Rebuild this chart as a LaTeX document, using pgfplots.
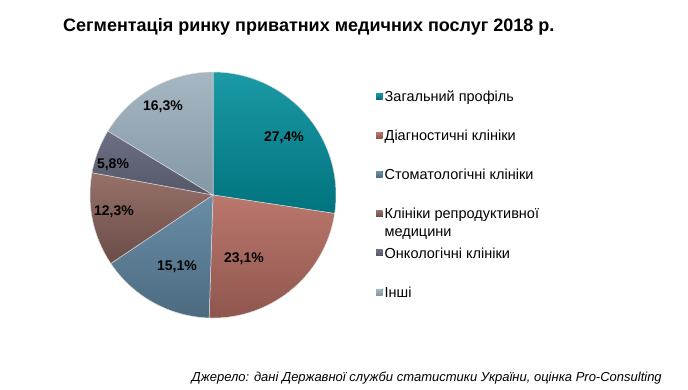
\documentclass[border=0pt]{standalone}
\usepackage{pgfplots}
\pgfplotsset{compat=1.18}
\usepackage{pgfplotstable}
\usepackage{fontspec}
\setmainfont{Liberation Sans}

\definecolor{tealT}{HTML}{1B9AA5}\definecolor{tealB}{HTML}{00737E}
\definecolor{salT}{HTML}{BB776C}\definecolor{salB}{HTML}{8F564E}
\definecolor{steT}{HTML}{6A8EA7}\definecolor{steB}{HTML}{4B6A80}
\definecolor{broT}{HTML}{977169}\definecolor{broB}{HTML}{6A4C48}
\definecolor{slaT}{HTML}{6D7083}\definecolor{slaB}{HTML}{555869}
\definecolor{ligT}{HTML}{A6B7C3}\definecolor{ligB}{HTML}{8497A6}

\pgfplotstableread{
share
27.4
23.1
15.1
12.3
5.8
16.3
}\piedata

\begin{document}
\begin{tikzpicture}
\gdef\cumsum{0}
\foreach \i/\n in {0/A,1/B,2/C,3/D,4/E,5/F}{%
  \pgfplotstablegetelem{\i}{share}\of\piedata
  \let\curval\pgfplotsretval
  \pgfmathsetmacro\tmpa{90-3.6*\cumsum}%
  \pgfmathsetmacro\tmpc{\cumsum+\curval}%
  \pgfmathsetmacro\tmpb{90-3.6*\tmpc}%
  \expandafter\xdef\csname pieS\n\endcsname{\tmpa}%
  \expandafter\xdef\csname pieE\n\endcsname{\tmpb}%
  \xdef\cumsum{\tmpc}%
}
\begin{axis}[
  scale only axis, width=688pt, height=389pt,
  xmin=0, xmax=688, ymin=0, ymax=389, y dir=reverse,
  hide axis, clip=false,
  legend image code/.code={\fill[#1, draw=none] (0pt,-3pt) rectangle (6.5pt,3pt);},
  legend cell align=left,
  legend style={at={(axis cs:376,90.6)}, anchor=north west, draw=none, fill=none,
    inner sep=0pt, row sep=28.8pt, column sep=2pt,
    font=\fontsize{14.5}{18}\selectfont,
    nodes={inner sep=0pt, text height=10.4pt, text depth=0pt}},
  every axis plot/.append style={draw=white!85!black, line width=0.5pt, samples=100, variable=\t},
]
\addplot[top color=tealT, bottom color=tealB, domain=\pieEA:\pieSA] ({213+123*cos(\t)},{195-123*sin(\t)}) -- (axis cs:213,195) -- cycle;
\addlegendentry{Загальний профіль}
\addplot[top color=salT, bottom color=salB, domain=\pieEB:\pieSB] ({213+123*cos(\t)},{195-123*sin(\t)}) -- (axis cs:213,195) -- cycle;
\addlegendentry{Діагностичні клініки}
\addplot[top color=steT, bottom color=steB, domain=\pieEC:\pieSC] ({213+123*cos(\t)},{195-123*sin(\t)}) -- (axis cs:213,195) -- cycle;
\addlegendentry{Стоматологічні клініки}
\addplot[top color=broT, bottom color=broB, domain=\pieED:\pieSD] ({213+123*cos(\t)},{195-123*sin(\t)}) -- (axis cs:213,195) -- cycle;
\addlegendentry{\vtop{\hbox{Клініки репродуктивної}\hbox{медицини}}}
\addplot[top color=slaT, bottom color=slaB, domain=\pieEE:\pieSE] ({213+123*cos(\t)},{195-123*sin(\t)}) -- (axis cs:213,195) -- cycle;
\addlegendentry{Онкологічні клініки}
\addplot[top color=ligT, bottom color=ligB, domain=\pieEF:\pieSF] ({213+123*cos(\t)},{195-123*sin(\t)}) -- (axis cs:213,195) -- cycle;
\addlegendentry{Інші}

\begin{scope}[every node/.style={font=\fontsize{14}{16}\selectfont\bfseries}]
\node at (axis cs:284,138) {27,4\%};
\node at (axis cs:244,259) {23,1\%};
\node at (axis cs:177,267) {15,1\%};
\node at (axis cs:114,212) {12,3\%};
\node at (axis cs:113,165) {5,8\%};
\node at (axis cs:163,107) {16,3\%};
\end{scope}

\node[anchor=base west, inner sep=0pt, font=\fontsize{18}{21}\selectfont\bfseries] at (axis cs:63,31.7) {Сегментація ринку приватних медичних послуг 2018 р.};
\node[anchor=base east, inner sep=0pt, font=\fontsize{13}{15}\selectfont\itshape] at (axis cs:662,381.7) {Джерело: дані Державної служби статистики України, оцінка Pro-Consulting};
\end{axis}
\path (current axis.south west) rectangle (current axis.north east);
\end{tikzpicture}
\end{document}
